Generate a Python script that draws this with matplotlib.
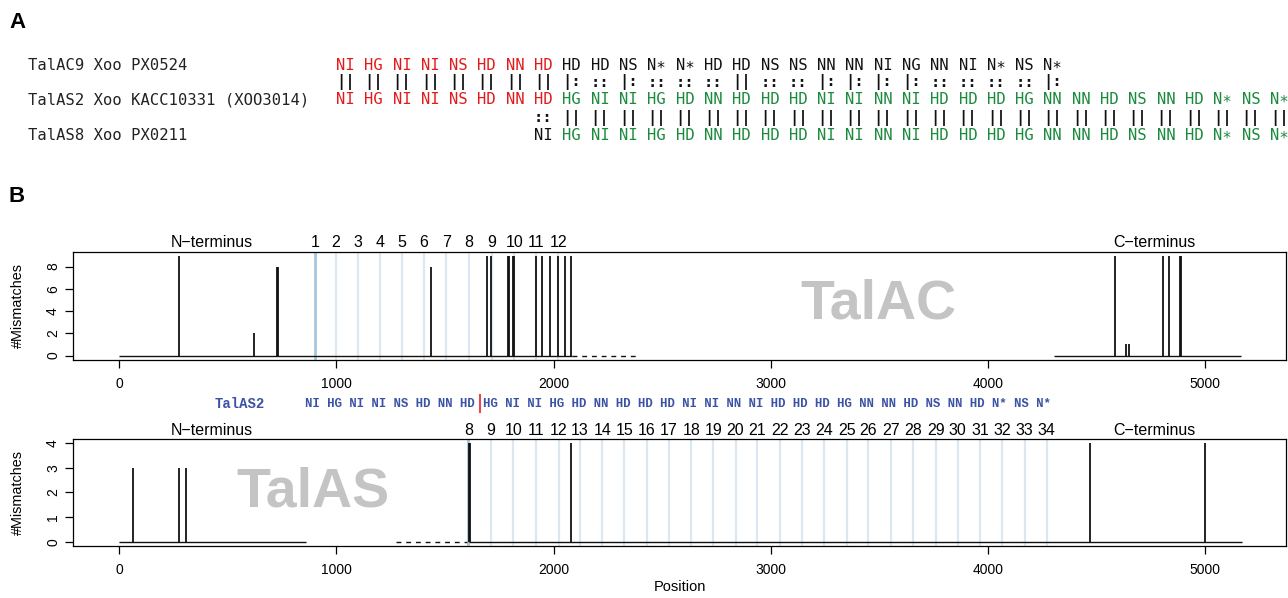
import matplotlib.pyplot as plt
from matplotlib.lines import Line2D
import matplotlib.transforms as mtransforms

plt.rcParams['font.family'] = ['Liberation Sans', 'DejaVu Sans']

W, H = 1288, 598

# ---- panel A: RVD alignment
label_ac9 = 'TalAC9 Xoo PX0524'
label_as2 = 'TalAS2 Xoo KACC10331 (XOO3014)'
label_as8 = 'TalAS8 Xoo PX0211'
rvd_ac9 = ['NI', 'HG', 'NI', 'NI', 'NS', 'HD', 'NN', 'HD',
           'HD', 'HD', 'NS', 'N*', 'N*', 'HD', 'HD', 'NS', 'NS', 'NN', 'NN',
           'NI', 'NG', 'NN', 'NI', 'N*', 'NS', 'N*']
rvd_as2 = ['NI', 'HG', 'NI', 'NI', 'NS', 'HD', 'NN', 'HD',
           'HG', 'NI', 'NI', 'HG', 'HD', 'NN', 'HD', 'HD', 'HD', 'NI', 'NI',
           'NN', 'NI', 'HD', 'HD', 'HD', 'HG', 'NN', 'NN', 'HD', 'NS', 'NN',
           'HD', 'N*', 'NS', 'N*']
as8_start = 7
rvd_as8 = ['NI', 'HG', 'NI', 'NI', 'HG', 'HD', 'NN', 'HD', 'HD', 'HD', 'NI',
           'NI', 'NN', 'NI', 'HD', 'HD', 'HD', 'HG', 'NN', 'NN', 'HD', 'NS',
           'NN', 'HD', 'N*', 'NS', 'N*']
n_shared = 8  # repeats shared by TalAC9 and TalAS2 (red)

# ---- panel B: mismatches along the gene
ac_pos = [278, 622, 725, 731, 1435, 1695, 1712, 1789, 1796, 1812, 1819,
          1919, 1948, 1983, 2019, 2051, 2079, 4587, 4636, 4650, 4806, 4835,
          4882, 4888]
ac_mis = [9, 2, 8, 8, 8, 9, 9, 9, 9, 9, 9,
          9, 9, 9, 9, 9, 9, 9, 1, 1, 9, 9,
          9, 9]
ac_repeats = [901, 998, 1098, 1201, 1303, 1404, 1507, 1610, 1715, 1820, 1918, 2021]
ac_repeat_labels = list(range(1, 13))
ac_solid = [(0, 2084), (4305, 5166)]
ac_dashed = [(2084, 2385)]

as_pos = [65, 276, 307, 1611, 1615, 2081, 4468, 4999]
as_mis = [3, 3, 3, 4, 4, 4, 4, 4]
as_repeats = [1608, 1713, 1815, 1920, 2023, 2122, 2225, 2326, 2429, 2532,
              2634, 2736, 2838, 2939, 3043, 3145, 3247, 3350, 3450, 3553,
              3657, 3760, 3861, 3963, 4066, 4169, 4271]
as_repeat_labels = list(range(8, 35))
as_solid = [(0, 861), (1613, 5170)]
as_dashed = [(1274, 1604)]

n_term_x = 427
c_term_x = 4765

RED = '#e31a1c'
GREEN = '#1a8a3c'
BLUE_TXT = '#3a53a4'
REP_LIGHT = '#dbe8f2'
REP_DARK = '#a6c8dd'


def fx(px):
    return px / W


def fy(py):
    return 1 - py / H


def star(r):
    # panel A draws the asterisk centred, like the aligner output
    return r.replace('*', '\u2217')


fig = plt.figure(figsize=(W / 100, H / 100), dpi=100)

# ---------------- panel A
fig.text(fx(9), fy(22), 'A', fontsize=16, weight='bold', va='center')
mono = dict(family=['DejaVu Sans Mono', 'DejaVu Sans'], fontsize=11.2, va='center')
col0, pitch = 336, 28.3
row_y = [65, 100, 135]
match_y = [82.5, 117.5]

fig.text(fx(28), fy(row_y[0]), label_ac9, color='#222222', **mono)
fig.text(fx(28), fy(row_y[1]), label_as2, color='#222222', **mono)
fig.text(fx(28), fy(row_y[2]), label_as8, color='#222222', **mono)

for i, r in enumerate(rvd_ac9):
    c = RED if i < n_shared else '#111111'
    fig.text(fx(col0 + pitch * i), fy(row_y[0]), star(r), color=c, **mono)
for i, r in enumerate(rvd_as2):
    c = RED if i < n_shared else GREEN
    fig.text(fx(col0 + pitch * i), fy(row_y[1]), star(r), color=c, **mono)
for j, r in enumerate(rvd_as8):
    i = as8_start + j
    c = GREEN if i >= n_shared else '#111111'
    fig.text(fx(col0 + pitch * i), fy(row_y[2]), star(r), color=c, **mono)


def match(a, b):
    return ''.join('|' if x == y else ':' for x, y in zip(a, b))


bold_mono = dict(mono, weight='bold')
for i, (a, b) in enumerate(zip(rvd_ac9, rvd_as2)):
    fig.text(fx(col0 + pitch * i), fy(match_y[0]), match(a, b), color='#111111', **bold_mono)
for j, b in enumerate(rvd_as8):
    i = as8_start + j
    fig.text(fx(col0 + pitch * i), fy(match_y[1]), match(rvd_as2[i], b), color='#111111', **bold_mono)

# ---------------- panel B
fig.text(fx(9), fy(197), 'B', fontsize=16, weight='bold', va='center')

left, right = 73, 1286
ax1 = fig.add_axes([fx(left), fy(359.5), (right - left) / W, (359.5 - 251.5) / H])
ax2 = fig.add_axes([fx(left), fy(546), (right - left) / W, (546 - 439) / H])


def draw_panel(ax, pos, mis, repeats, rep_labels, solid, dashed, ylim, yticks, name, name_xy):
    for k, r in enumerate(repeats):
        if k == 0:
            ax.axvline(r, color=REP_DARK, lw=2.0, zorder=1)
        else:
            ax.axvline(r, color=REP_LIGHT, lw=1.6, zorder=1)
    for a, b in solid:
        ax.hlines(0, a, b, color='#111111', lw=1.0, zorder=2)
    for a, b in dashed:
        ax.hlines(0, a, b, color='#111111', lw=1.0, linestyles=(0, (3.5, 3.5)), zorder=2)
    ax.vlines(pos, 0, mis, color='#111111', lw=1.3, zorder=3)
    ax.text(name_xy[0], name_xy[1], name, fontsize=40, weight='bold', color='#c4c4c4',
            ha='center', va='center', zorder=0)

    trans = mtransforms.blended_transform_factory(ax.transData, ax.transAxes)
    off = mtransforms.ScaledTranslation(0, 3 / 72, fig.dpi_scale_trans)
    ax.text(n_term_x, 1, 'N\u2212terminus', transform=trans + off,
            ha='center', va='baseline', fontsize=11.5)
    ax.text(c_term_x, 1, 'C\u2212terminus', transform=trans + off,
            ha='center', va='baseline', fontsize=11.5)
    for r, l in zip(repeats, rep_labels):
        ax.text(r, 1, str(l), transform=trans + off, ha='center', va='baseline', fontsize=11.5)

    ax.set_xlim(-212, 5372)
    ax.set_ylim(*ylim)
    ax.set_xticks([0, 1000, 2000, 3000, 4000, 5000])
    ax.set_yticks(yticks)
    ax.tick_params(direction='out', length=5.8, width=0.9, labelsize=10, pad=6.5)
    ax.tick_params(axis='y', pad=3.5)
    for lbl in ax.get_yticklabels():
        lbl.set_rotation(90)
        lbl.set_va('center')
        lbl.set_ha('right')
    for s in ax.spines.values():
        s.set_linewidth(0.9)
    ax.set_ylabel('#Mismatches', fontsize=10.4)
    ax.yaxis.set_label_coords(-0.040, 0.5)


draw_panel(ax1, ac_pos, ac_mis, ac_repeats, ac_repeat_labels, ac_solid, ac_dashed,
           (-0.36, 9.36), [0, 2, 4, 6, 8], 'TalAC', (3498, 4.6))
draw_panel(ax2, as_pos, as_mis, as_repeats, as_repeat_labels, as_solid, as_dashed,
           (-0.16, 4.16), [0, 1, 2, 3, 4], 'TalAS', (893, 2.0))
ax2.set_xlabel('Position', fontsize=10.5, labelpad=2)

# TalAS2 RVDs between the two panels
blue = dict(family='Liberation Mono', weight='bold', fontsize=8.9, color=BLUE_TXT, va='center')
fig.text(fx(215), fy(404), 'TalAS2', **dict(blue, fontsize=10))
fig.text(fx(305), fy(404), ' '.join(rvd_as2[:n_shared]), **blue)
fig.text(fx(482.7), fy(404), ' '.join(rvd_as2[n_shared:]), **blue)
fig.add_artist(Line2D([fx(479.5), fx(479.5)], [fy(395), fy(412)], color='#e8474c', lw=1.5))

fig.savefig('out.png', dpi=100)
